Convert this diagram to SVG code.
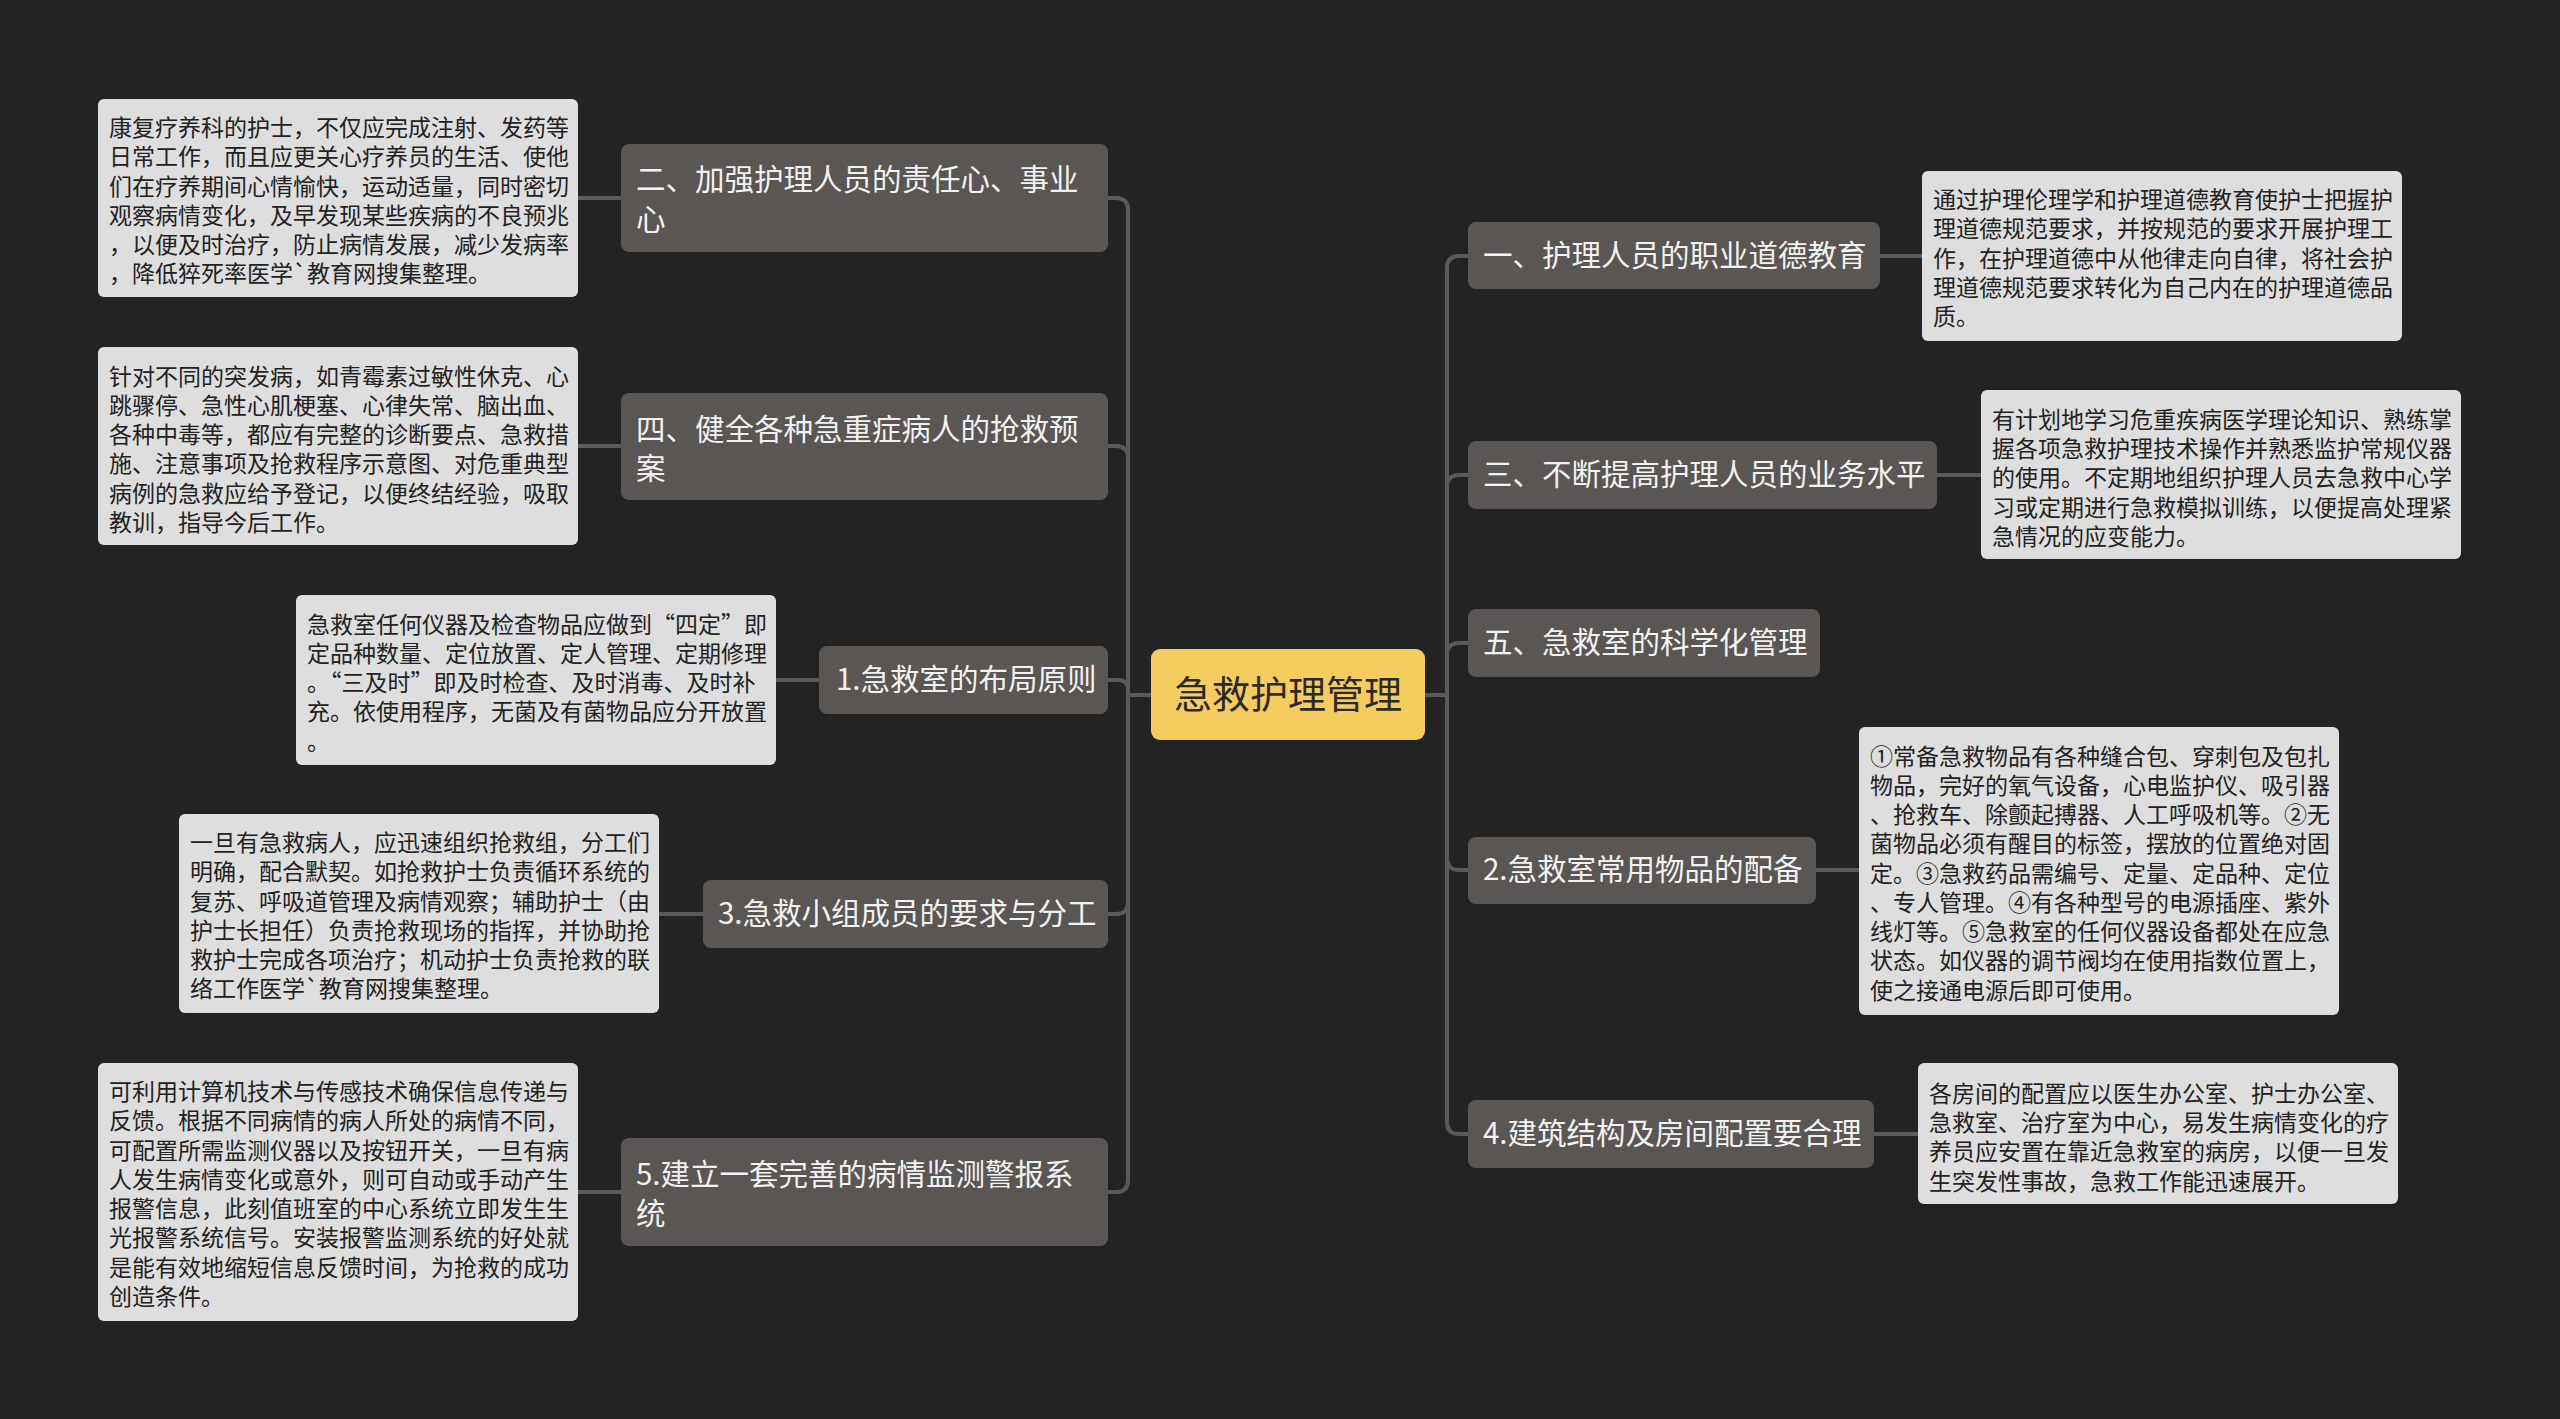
<svg xmlns="http://www.w3.org/2000/svg" width="2560" height="1419" viewBox="0 0 2560 1419">
<style>
.bg{fill:#232323}
.conn path{fill:none;stroke:#5a5a5a;stroke-width:4;stroke-linecap:round}
.leaf rect{fill:#dedede}
.leaf text{font-family:"Noto Sans CJK SC","Noto Sans",sans-serif;font-size:23px;fill:#222}
.br rect{fill:#5a5653}
.br text{font-family:"Noto Sans CJK SC","Noto Sans",sans-serif;font-size:29.5px;fill:#f2f2f2}
.root rect{fill:#f5cc5e}
.root text{font-family:"Noto Sans CJK SC","Noto Sans",sans-serif;font-size:38px;fill:#2a2a2a}
</style>
<rect class="bg" x="0" y="0" width="2560" height="1419"/>

<g class="conn" id="connectors">
<path d="M1151,695 H1128 V210 Q1128,198 1116,198 H1108"/>
<path d="M1128,695 V458 Q1128,446 1116,446 H1108"/>
<path d="M1128,695 V690 Q1128,680 1118,680 H1108"/>
<path d="M1128,695 V902 Q1128,914 1116,914 H1108"/>
<path d="M1128,695 V1180 Q1128,1192 1116,1192 H1108"/>
<path d="M1425,695 H1447 V268 Q1447,256 1459,256 H1468"/>
<path d="M1447,695 V487 Q1447,475 1459,475 H1468"/>
<path d="M1447,695 V655 Q1447,643 1459,643 H1468"/>
<path d="M1447,695 V858 Q1447,870 1459,870 H1468"/>
<path d="M1447,695 V1122 Q1447,1134 1459,1134 H1468"/>
<path d="M578,198 H621"/>
<path d="M578,446 H621"/>
<path d="M776,680 H819"/>
<path d="M659,914 H703"/>
<path d="M578,1192 H621"/>
<path d="M1880,256 H1922"/>
<path d="M1937,475 H1981"/>
<path d="M1816,870 H1859"/>
<path d="M1874,1134 H1918"/>
</g>

<g class="root" id="root">
<rect x="1151" y="649" width="274" height="91" rx="9"/>
<text x="1288" y="708" text-anchor="middle">急救护理管理</text>
</g>

<g class="br" id="b2">
<rect x="621" y="144" width="487" height="108" rx="8"/>
<text x="636" y="190">二、加强护理人员的责任心、事业</text>
<text x="636" y="230">心</text>
</g>
<g class="br" id="b4">
<rect x="621" y="393" width="487" height="107" rx="8"/>
<text x="636" y="440">四、健全各种急重症病人的抢救预</text>
<text x="636" y="479">案</text>
</g>
<g class="br" id="bl1">
<rect x="819" y="646" width="289" height="68" rx="8"/>
<text x="836" y="690">1.急救室的布局原则</text>
</g>
<g class="br" id="bl3">
<rect x="703" y="880" width="405" height="68" rx="8"/>
<text x="718" y="924">3.急救小组成员的要求与分工</text>
</g>
<g class="br" id="bl5">
<rect x="621" y="1138" width="487" height="108" rx="8"/>
<text x="636" y="1185">5.建立一套完善的病情监测警报系</text>
<text x="636" y="1224">统</text>
</g>
<g class="br" id="b1">
<rect x="1468" y="222" width="412" height="67" rx="8"/>
<text x="1483" y="266">一、护理人员的职业道德教育</text>
</g>
<g class="br" id="b3">
<rect x="1468" y="441" width="469" height="68" rx="8"/>
<text x="1483" y="485">三、不断提高护理人员的业务水平</text>
</g>
<g class="br" id="b5">
<rect x="1468" y="609" width="352" height="68" rx="8"/>
<text x="1483" y="653">五、急救室的科学化管理</text>
</g>
<g class="br" id="br2">
<rect x="1468" y="837" width="348" height="67" rx="8"/>
<text x="1483" y="880">2.急救室常用物品的配备</text>
</g>
<g class="br" id="br4">
<rect x="1468" y="1100" width="406" height="68" rx="8"/>
<text x="1483" y="1144">4.建筑结构及房间配置要合理</text>
</g>

<g class="leaf" id="leafA">
<rect x="98" y="99" width="480" height="198" rx="6"/>
<text x="109" y="136">康复疗养科的护士，不仅应完成注射、发药等</text>
<text x="109" y="165">日常工作，而且应更关心疗养员的生活、使他</text>
<text x="109" y="195">们在疗养期间心情愉快，运动适量，同时密切</text>
<text x="109" y="224">观察病情变化，及早发现某些疾病的不良预兆</text>
<text x="109" y="253">，以便及时治疗，防止病情发展，减少发病率</text>
<text x="109" y="282">，降低猝死率医学`教育网搜集整理。</text>
</g>
<g class="leaf" id="leafB">
<rect x="98" y="347" width="480" height="198" rx="6"/>
<text x="109" y="385">针对不同的突发病，如青霉素过敏性休克、心</text>
<text x="109" y="414">跳骤停、急性心肌梗塞、心律失常、脑出血、</text>
<text x="109" y="443">各种中毒等，都应有完整的诊断要点、急救措</text>
<text x="109" y="472">施、注意事项及抢救程序示意图、对危重典型</text>
<text x="109" y="502">病例的急救应给予登记，以便终结经验，吸取</text>
<text x="109" y="531">教训，指导今后工作。</text>
</g>
<g class="leaf" id="leafC">
<rect x="296" y="595" width="480" height="170" rx="6"/>
<text x="307" y="633">急救室任何仪器及检查物品应做到“四定”即</text>
<text x="307" y="662">定品种数量、定位放置、定人管理、定期修理</text>
<text x="307" y="691">。“三及时”即及时检查、及时消毒、及时补</text>
<text x="307" y="720">充。依使用程序，无菌及有菌物品应分开放置</text>
<text x="307" y="750">。</text>
</g>
<g class="leaf" id="leafD">
<rect x="179" y="814" width="480" height="199" rx="6"/>
<text x="190" y="851">一旦有急救病人，应迅速组织抢救组，分工们</text>
<text x="190" y="880">明确，配合默契。如抢救护士负责循环系统的</text>
<text x="190" y="910">复苏、呼吸道管理及病情观察；辅助护士（由</text>
<text x="190" y="939">护士长担任）负责抢救现场的指挥，并协助抢</text>
<text x="190" y="968">救护士完成各项治疗；机动护士负责抢救的联</text>
<text x="190" y="997">络工作医学`教育网搜集整理。</text>
</g>
<g class="leaf" id="leafE">
<rect x="98" y="1063" width="480" height="258" rx="6"/>
<text x="109" y="1100">可利用计算机技术与传感技术确保信息传递与</text>
<text x="109" y="1129">反馈。根据不同病情的病人所处的病情不同，</text>
<text x="109" y="1159">可配置所需监测仪器以及按钮开关，一旦有病</text>
<text x="109" y="1188">人发生病情变化或意外，则可自动或手动产生</text>
<text x="109" y="1217">报警信息，此刻值班室的中心系统立即发生生</text>
<text x="109" y="1246">光报警系统信号。安装报警监测系统的好处就</text>
<text x="109" y="1276">是能有效地缩短信息反馈时间，为抢救的成功</text>
<text x="109" y="1305">创造条件。</text>
</g>
<g class="leaf" id="leafF">
<rect x="1922" y="171" width="480" height="170" rx="6"/>
<text x="1933" y="208">通过护理伦理学和护理道德教育使护士把握护</text>
<text x="1933" y="237">理道德规范要求，并按规范的要求开展护理工</text>
<text x="1933" y="267">作，在护理道德中从他律走向自律，将社会护</text>
<text x="1933" y="296">理道德规范要求转化为自己内在的护理道德品</text>
<text x="1933" y="325">质。</text>
</g>
<g class="leaf" id="leafG">
<rect x="1981" y="390" width="480" height="169" rx="6"/>
<text x="1992" y="428">有计划地学习危重疾病医学理论知识、熟练掌</text>
<text x="1992" y="457">握各项急救护理技术操作并熟悉监护常规仪器</text>
<text x="1992" y="486">的使用。不定期地组织护理人员去急救中心学</text>
<text x="1992" y="516">习或定期进行急救模拟训练，以便提高处理紧</text>
<text x="1992" y="545">急情况的应变能力。</text>
</g>
<g class="leaf" id="leafH">
<rect x="1859" y="727" width="480" height="288" rx="6"/>
<text x="1870" y="765">①常备急救物品有各种缝合包、穿刺包及包扎</text>
<text x="1870" y="794">物品，完好的氧气设备，心电监护仪、吸引器</text>
<text x="1870" y="823">、抢救车、除颤起搏器、人工呼吸机等。②无</text>
<text x="1870" y="852">菌物品必须有醒目的标签，摆放的位置绝对固</text>
<text x="1870" y="882">定。③急救药品需编号、定量、定品种、定位</text>
<text x="1870" y="911">、专人管理。④有各种型号的电源插座、紫外</text>
<text x="1870" y="940">线灯等。⑤急救室的任何仪器设备都处在应急</text>
<text x="1870" y="969">状态。如仪器的调节阀均在使用指数位置上，</text>
<text x="1870" y="999">使之接通电源后即可使用。</text>
</g>
<g class="leaf" id="leafI">
<rect x="1918" y="1063" width="480" height="141" rx="6"/>
<text x="1929" y="1102">各房间的配置应以医生办公室、护士办公室、</text>
<text x="1929" y="1131">急救室、治疗室为中心，易发生病情变化的疗</text>
<text x="1929" y="1160">养员应安置在靠近急救室的病房，以便一旦发</text>
<text x="1929" y="1190">生突发性事故，急救工作能迅速展开。</text>
</g>
</svg>
